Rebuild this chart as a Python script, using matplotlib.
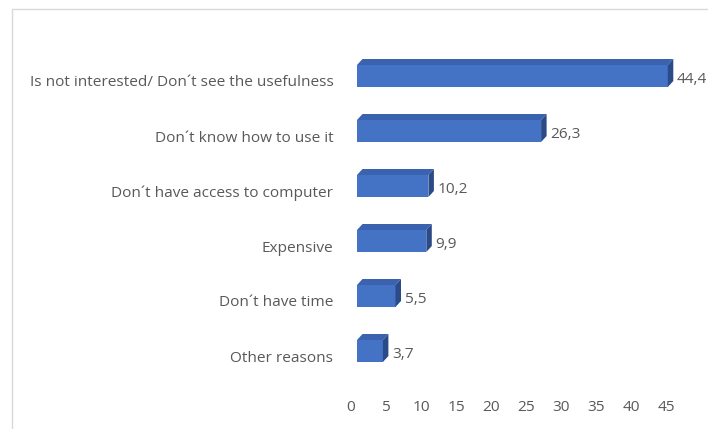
import numpy as np
import matplotlib
matplotlib.use("Agg")
import matplotlib.pyplot as plt
from matplotlib.patches import Polygon, Rectangle
from matplotlib.transforms import ScaledTranslation

reasons = ["Is not interested/ Don\u00b4t see the usefulness",
           "Don\u00b4t know how to use it",
           "Don\u00b4t have access to computer",
           "Expensive",
           "Don\u00b4t have time",
           "Other reasons"]
shares = [44.4, 26.3, 10.2, 9.9, 5.5, 3.7]
share_labels = ["44,4", "26,3", "10,2", "9,9", "5,5", "3,7"]
x_ticks = [0, 5, 10, 15, 20, 25, 30, 35, 40, 45]

plt.rcParams['font.family'] = ['Open Sans', 'DejaVu Sans']
fs = 11.1

front_col = '#4472C4'
top_col = '#3A62AE'
side_col = '#2B4A88'
text_col = '#595959'

fig = plt.figure(figsize=(7.08, 4.29), dpi=100)
W, H = 708, 429

# outer chart frame
frame = Rectangle((12 / W, -0.1), 1.1, 1 - 9 / H + 0.1, transform=fig.transFigure,
                  fill=False, edgecolor='#D9D9D9', lw=1.0)
fig.patches.append(frame)

# plot area: x=0 at px 357, 7 px per unit; rows every 55 px from px 76
left_px, px_per_unit = 357, 7.0
xmax = 48
top_px, bot_px = 40, 385
row0, row_step = 76, 55
ax = fig.add_axes([left_px / W, 1 - bot_px / H,
                   xmax * px_per_unit / W, (bot_px - top_px) / H])
ax.set_xlim(0, xmax)
ax.set_ylim((bot_px - row0) / row_step, (top_px - row0) / row_step)

bar_h = 0.40
dx = 5.5 / px_per_unit       # depth of the 3d box in x units
dy = 6.0 / row_step          # depth in row units

ypos = np.arange(len(reasons))
for y, v, lab in zip(ypos, shares, share_labels):
    y0, y1 = y - bar_h / 2, y + bar_h / 2
    ax.add_patch(Rectangle((0, y0), v, bar_h, facecolor=front_col, edgecolor='none', zorder=3))
    ax.add_patch(Polygon([(0, y0), (v, y0), (v + dx, y0 - dy), (dx, y0 - dy)],
                         closed=True, facecolor=top_col, edgecolor='none', zorder=3))
    ax.add_patch(Polygon([(v, y0), (v + dx, y0 - dy), (v + dx, y1 - dy), (v, y1)],
                         closed=True, facecolor=side_col, edgecolor='none', zorder=3))
    ax.text(v + dx + 3.5 / px_per_unit, y + 0.07, lab, ha='left', va='center',
            fontsize=fs, color=text_col)

ax.set_yticks(ypos)
ax.set_yticklabels(reasons, fontsize=fs, color=text_col)
ax.set_xticks(x_ticks)
ax.set_xticklabels([str(t) for t in x_ticks], fontsize=fs, color=text_col)
ax.tick_params(axis='y', length=0, pad=17)
ax.tick_params(axis='x', length=0, pad=11)
for s in ax.spines.values():
    s.set_visible(False)

# category and value-axis labels sit on the floor of the 3d box
for t in ax.get_yticklabels():
    t.set_transform(t.get_transform() + ScaledTranslation(0, -5 / 100, fig.dpi_scale_trans))
for t in ax.get_xticklabels():
    t.set_transform(t.get_transform() + ScaledTranslation(-6 / 100, 0, fig.dpi_scale_trans))

fig.savefig('out.png', dpi=100)
